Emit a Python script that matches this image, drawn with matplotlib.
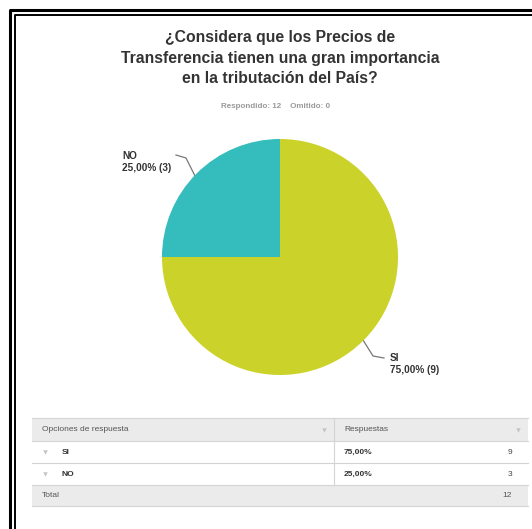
import matplotlib
matplotlib.use("Agg")
import matplotlib.pyplot as plt
from matplotlib.patches import Rectangle

plt.rcParams['font.family'] = ['Liberation Sans', 'DejaVu Sans']

categories = ['SI', 'NO']
counts = [9, 3]
colors = ['#cbd32a', '#35bcbc']
title = "¿Considera que los Precios de\nTransferencia tienen una gran importancia\nen la tributación del País?"
answered = 12
skipped = 0
col_headers = ['Opciones de respuesta', 'Respuestas']

W, H = 532, 529
fig = plt.figure(figsize=(W / 100, H / 100), dpi=100)
bg = fig.add_axes([0, 0, 1, 1])
bg.set_xlim(0, W)
bg.set_ylim(H, 0)
bg.axis('off')

# double border
for off, lw in [(10, 2.2), (14.5, 1.4)]:
    bg.plot([off, off, W + 5], [H + 5, off, off], color='black', lw=lw, solid_capstyle='butt')

total = sum(counts)
pcts = [c / total * 100 for c in counts]

def fmt_pct(p):
    return f"{p:.2f}".replace('.', ',') + '%'

# title
bg.text(280, 58, title, ha='center', va='center', fontsize=11.3, fontweight='bold',
        color='#333333', linespacing=1.42)
bg.text(276, 106, f"Respondido: {answered}    Omitido: {skipped}", ha='center', va='center',
        fontsize=5.8, color='#999999', fontweight='bold')

# pie
cx, cy, r = 280, 257, 118
pax = fig.add_axes([(cx - r) / W, (H - cy - r) / H, 2 * r / W, 2 * r / H])
pax.pie(counts, colors=colors, startangle=90, counterclock=False, radius=1,
        wedgeprops=dict(linewidth=0))
pax.set_xlim(-1, 1)
pax.set_ylim(-1, 1)
pax.set_aspect('auto')
pax.axis('off')

# labels with leader lines
bg.plot([176, 186, 196], [155, 158, 178], color='#777777', lw=0.9)
bg.text(122, 162, f"{categories[1]}\n{fmt_pct(pcts[1])} ({counts[1]})", ha='left', va='center',
        fontsize=7.2, fontweight='bold', color='#333333', linespacing=1.15)
bg.plot([363, 373, 384], [340, 356, 358], color='#777777', lw=0.9)
bg.text(390, 364, f"{categories[0]}\n{fmt_pct(pcts[0])} ({counts[0]})", ha='left', va='center',
        fontsize=7.2, fontweight='bold', color='#333333', linespacing=1.15)

# table
x0, x1, xs = 32, 528, 334
rows_y = [418, 441, 463, 485, 506]
bg.add_patch(Rectangle((x0, rows_y[0]), x1 - x0, rows_y[1] - rows_y[0], color='#ebebeb', lw=0))
bg.add_patch(Rectangle((x0, rows_y[3]), x1 - x0, rows_y[4] - rows_y[3], color='#ebebeb', lw=0))
for y in rows_y:
    bg.plot([x0, x1], [y, y], color='#d4d4d4', lw=0.8)
bg.plot([xs, xs], [rows_y[0], rows_y[3]], color='#d4d4d4', lw=0.8)

tfs = 6.0
tri = dict(marker='v', markersize=3.2, color='#c4c4c4', markeredgewidth=0, linestyle='none')
bg.text(42, 429.5, col_headers[0], ha='left', va='center', fontsize=tfs, color='#555555')
bg.text(344, 429.5, col_headers[1], ha='left', va='center', fontsize=tfs, color='#555555')
bg.plot([324, 518], [430, 430], **tri)
for i, cat in enumerate(categories):
    ym = (rows_y[i + 1] + rows_y[i + 2]) / 2
    bg.plot([45], [ym], **tri)
    bg.text(62, ym, cat, ha='left', va='center', fontsize=tfs, fontweight='bold', color='#333333')
    bg.text(344, ym, fmt_pct(pcts[i]), ha='left', va='center', fontsize=tfs, fontweight='bold', color='#333333')
    bg.text(512, ym, str(counts[i]), ha='right', va='center', fontsize=tfs, color='#444444')
bg.text(42, 495.5, 'Total', ha='left', va='center', fontsize=tfs, color='#555555')
bg.text(512, 495.5, str(total), ha='right', va='center', fontsize=tfs, color='#555555')

fig.savefig('out.png', dpi=100, facecolor='white')
